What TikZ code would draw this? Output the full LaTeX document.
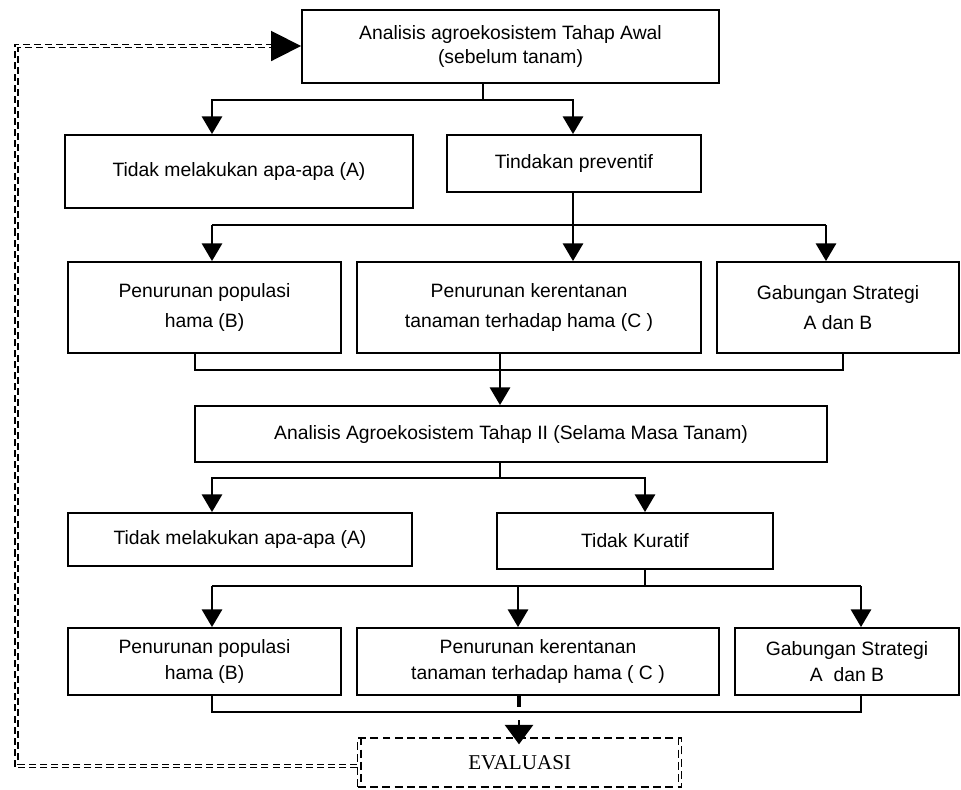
\documentclass[tikz,border=0pt]{standalone}
\usepackage{fontspec}
\setmainfont{Liberation Sans}
\newfontfamily\evalfont{Liberation Serif}
\usetikzlibrary{arrows.meta}

\begin{document}
\begin{tikzpicture}[x=0.02cm,y=-0.02cm,
  kotak/.style={draw,line width=1.1pt,inner sep=0pt,align=center,font=\fontsize{11}{15}\selectfont},
  garis/.style={line width=1.1pt},
  panah/.style={line width=1.1pt,-{Triangle[length=10pt,width=11.5pt]}},
  putus/.style={line width=0.8pt,dash pattern=on 4.5pt off 2.5pt},
  balik/.style={line width=0.8pt,dash pattern=on 4pt off 2.3pt}]
\useasboundingbox (0,0) rectangle (961,789);

% kotak-kotak
\node[kotak,minimum width=8.34cm,minimum height=1.46cm,font=\fontsize{11}{13.5}\selectfont] (awal) at (510.5,46.5) {Analisis agroekosistem Tahap Awal\\(sebelum tanam)};
\node[kotak,minimum width=6.96cm,minimum height=1.46cm] (tidakA1) at (239,171.5) {Tidak melakukan apa-apa (A)};
\node[kotak,minimum width=5.08cm,minimum height=1.14cm] (preventif) at (574,163.5) {Tindakan preventif};
\node[kotak,minimum width=5.46cm,minimum height=1.82cm,font=\fontsize{11}{17}\selectfont] (popB1) at (204.5,307.5) {Penurunan populasi\\hama (B)};
\node[kotak,minimum width=6.88cm,minimum height=1.82cm,font=\fontsize{11}{17}\selectfont] (rentanC1) at (529,307.5) {Penurunan kerentanan\\tanaman terhadap hama (C )};
\node[kotak,minimum width=4.84cm,minimum height=1.82cm,font=\fontsize{11}{17}\selectfont] (gabung1) at (838,307.5) {Gabungan Strategi\\A dan B};
\node[kotak,minimum width=12.64cm,minimum height=1.12cm] (tahap2) at (511,434) {Analisis Agroekosistem Tahap II (Selama Masa Tanam)};
\node[kotak,minimum width=6.88cm,minimum height=1.06cm] (tidakA2) at (240,539.5) {Tidak melakukan apa-apa (A)};
\node[kotak,minimum width=5.52cm,minimum height=1.12cm] (kuratif) at (635,541) {Tidak Kuratif};
\node[kotak,minimum width=5.46cm,minimum height=1.34cm] (popB2) at (204.5,661.5) {Penurunan populasi\\hama (B)};
\node[kotak,minimum width=7.24cm,minimum height=1.34cm] (rentanC2) at (538,661.5) {Penurunan kerentanan\\tanaman terhadap hama ( C )};
\node[kotak,minimum width=4.48cm,minimum height=1.34cm] (gabung2) at (847,661.5) {Gabungan Strategi\\A~~dan B};
\node[putus,draw,inner sep=0pt,minimum width=6.48cm,minimum height=0.98cm,font=\evalfont\fontsize{12}{14}\selectfont] (evaluasi) at (519.7,762.5) {EVALUASI};
\draw[putus] ([xshift=0.08cm]evaluasi.north west) -- ([xshift=0.08cm]evaluasi.south west);
\draw[putus] ([xshift=-0.08cm]evaluasi.north east) -- ([xshift=-0.08cm]evaluasi.south east);

% titik cabang
\coordinate (b1l) at (212,100); \coordinate (b1m) at (483,100); \coordinate (b1r) at (573,100);
\coordinate (b2l) at (212,225); \coordinate (b2m) at (573,225); \coordinate (b2r) at (826,225);
\coordinate (b3l) at (195,370); \coordinate (b3m) at (500,370); \coordinate (b3r) at (843,370);
\coordinate (b4l) at (212,478); \coordinate (b4m) at (500,478); \coordinate (b4r) at (645,478);
\coordinate (b5l) at (212,586); \coordinate (b5c) at (518,586); \coordinate (b5m) at (645,586); \coordinate (b5r) at (861,586);
\coordinate (b6l) at (212,712); \coordinate (b6m) at (519,712); \coordinate (b6r) at (861,712);
\coordinate (kb) at (16.5,766); \coordinate (ka) at (16.5,46);

% tahap awal
\draw[garis] (awal.south -| b1m) -- (b1m);
\draw[panah] (b1m) -- (b1l) -- (b1l |- tidakA1.north);
\draw[panah] (b1m) -- (b1r) -- (b1r |- preventif.north);
\draw[garis] (preventif.south -| b2m) -- (b2m);
\draw[garis] (b2l) -- (b2r);
\draw[panah] (b2l) -- (b2l |- popB1.north);
\draw[panah] (b2m) -- (b2m |- rentanC1.north);
\draw[panah] (b2r) -- (b2r |- gabung1.north);
\draw[garis] (popB1.south -| b3l) -- (b3l) -- (b3r) -- (gabung1.south -| b3r);
\draw[panah] (rentanC1.south -| b3m) -- (b3m |- tahap2.north);

% tahap II
\draw[garis] (tahap2.south -| b4m) -- (b4m);
\draw[panah] (b4m) -- (b4l) -- (b4l |- tidakA2.north);
\draw[panah] (b4m) -- (b4r) -- (b4r |- kuratif.north);
\draw[garis] (kuratif.south -| b5m) -- (b5m);
\draw[garis] (b5l) -- (b5r);
\draw[panah] (b5l) -- (b5l |- popB2.north);
\draw[panah] (b5c) -- (b5c |- rentanC2.north);
\draw[panah] (b5r) -- (b5r |- gabung2.north);
\draw[garis] (popB2.south -| b6l) -- (b6l) -- (b6r) -- (gabung2.south -| b6r);
\draw[line width=2pt] (rentanC2.south -| b6m) -- ([yshift=0.1cm]b6m);
\draw[line width=1.1pt,shorten >=-0.14cm,-{Triangle[length=11pt,width=16pt]}] ([yshift=-0.16cm]b6m) -- (b6m |- evaluasi.north);

% umpan balik (garis ganda putus-putus)
\draw[balik] ([yshift=-0.034cm]evaluasi.west |- kb) -- ([xshift=-0.034cm,yshift=-0.034cm]kb) -- ([xshift=-0.034cm,yshift=0.034cm]ka) -- ([xshift=-0.6cm,yshift=0.034cm]ka -| awal.west);
\draw[balik] ([yshift=0.034cm]evaluasi.west |- kb) -- ([xshift=0.034cm,yshift=0.034cm]kb) -- ([xshift=0.034cm,yshift=-0.034cm]ka) -- ([xshift=-0.6cm,yshift=-0.034cm]ka -| awal.west);
\draw[line width=1pt,-{Triangle[length=17pt,width=17pt]}] ([xshift=-0.6cm]ka -| awal.west) -- (ka -| awal.west);
\end{tikzpicture}
\end{document}
